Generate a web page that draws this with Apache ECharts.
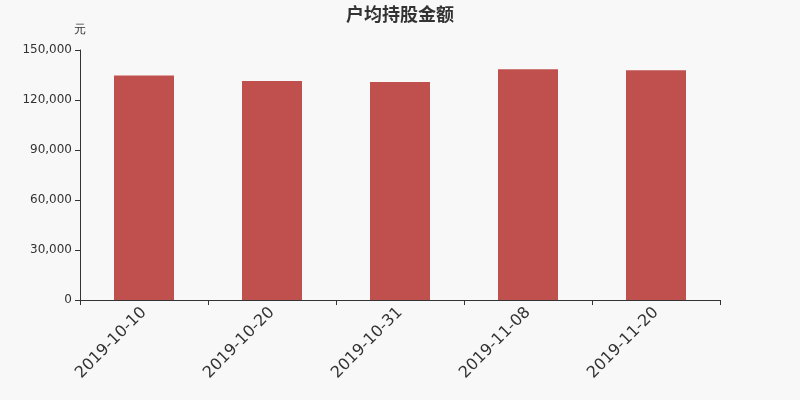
<!DOCTYPE html>
<html><head><meta charset="utf-8">
<script src="https://cdn.jsdelivr.net/npm/echarts@6/dist/echarts.min.js"></script>
<style>html,body{margin:0;padding:0;background:#f8f8f8}#c{width:800px;height:400px}</style>
</head><body><div id="c"></div>
<script>
const categories = ['2019-10-10','2019-10-20','2019-10-31','2019-11-08','2019-11-20'];
const values = [134700, 131400, 130800, 138400, 137800];
const yTicks = {min:0, max:150000, interval:30000};
const chart = echarts.init(document.getElementById('c'));
chart.setOption({
  backgroundColor:'#f8f8f8',
  animation:false,
  title:{text:'户均持股金额',left:'center',top:0,textStyle:{fontSize:18,fontWeight:'bold',color:'#333',fontFamily:'Noto Sans CJK SC'}},
  grid:{left:80,right:80,top:50,bottom:100},
  xAxis:{type:'category',data:categories,
    axisLine:{show:true,lineStyle:{color:'#333'}},
    axisTick:{show:true,alignWithLabel:false,interval:0,length:5,lineStyle:{color:'#333'}},
    axisLabel:{rotate:45,fontSize:16,color:'#333',margin:10,fontFamily:'DejaVu Sans'}},
  yAxis:{type:'value',name:'元',nameGap:14,nameTextStyle:{color:'#333',fontSize:12,align:'center'},
    min:yTicks.min,max:yTicks.max,interval:yTicks.interval,
    splitLine:{show:false},
    axisLine:{show:true,lineStyle:{color:'#333'}},
    axisTick:{show:true,length:5,lineStyle:{color:'#333'}},
    axisLabel:{color:'#333',fontSize:12,fontFamily:'DejaVu Sans',formatter:v=>v.toLocaleString('en-US')}},
  series:[{type:'bar',data:values,barWidth:60,itemStyle:{color:'#c0504d'}}]
});
</script></body></html>
